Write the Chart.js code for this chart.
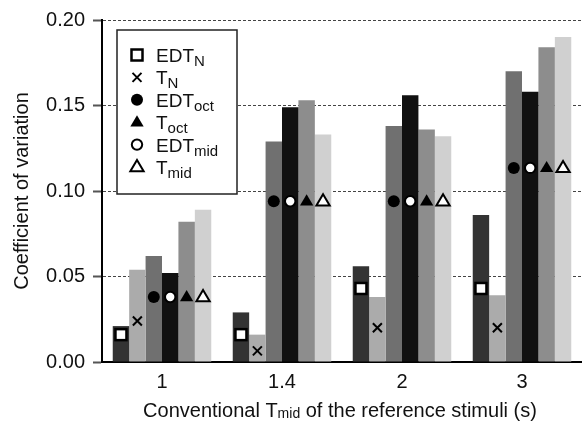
<!DOCTYPE html>
<html>
<head>
<meta charset="utf-8">
<script src="https://cdn.jsdelivr.net/npm/chart.js@4/dist/chart.umd.min.js"></script>
<style>
  html, body { margin: 0; padding: 0; background: #fff; }
  #wrap { width: 582px; height: 426px; }
</style>
</head>
<body>
<div id="wrap"><canvas id="cv" width="582" height="426"></canvas></div>
<script>
// conventional Tmid of the reference stimuli
const categories = ['1', '1.4', '2', '3'];

// bar heights, one array per bar in each group (left to right)
const barEdtN   = [0.021, 0.029, 0.056, 0.086];
const barTN     = [0.054, 0.016, 0.038, 0.039];
const barEdtOct = [0.062, 0.129, 0.138, 0.170];
const barEdtMid = [0.052, 0.149, 0.156, 0.158];
const barTOct   = [0.082, 0.153, 0.136, 0.184];
const barTMid   = [0.089, 0.133, 0.132, 0.190];

// marker values drawn on top of each bar
const markEdtN   = [0.016, 0.016, 0.043, 0.043];
const markTN     = [0.024, 0.0065, 0.020, 0.020];
const markEdtOct = [0.038, 0.094, 0.094, 0.1135];
const markEdtMid = [0.038, 0.094, 0.094, 0.1135];
const markTOct   = [0.038, 0.094, 0.094, 0.1135];
const markTMid   = [0.038, 0.094, 0.094, 0.1135];

const yTicks = [0, 0.05, 0.10, 0.15, 0.20];

const FONT = "'Liberation Sans', Arial, Helvetica, sans-serif";

const series = [
  { main: 'EDT', sub: 'N',   bars: barEdtN,   marks: markEdtN,   color: '#333333', style: 'squareOpen' },
  { main: 'T',   sub: 'N',   bars: barTN,     marks: markTN,     color: '#ababab', style: 'cross' },
  { main: 'EDT', sub: 'oct', bars: barEdtOct, marks: markEdtOct, color: '#707070', style: 'circle' },
  { main: 'EDT', sub: 'mid', bars: barEdtMid, marks: markEdtMid, color: '#111111', style: 'circleOpen' },
  { main: 'T',   sub: 'oct', bars: barTOct,   marks: markTOct,   color: '#8d8d8d', style: 'triangle' },
  { main: 'T',   sub: 'mid', bars: barTMid,   marks: markTMid,   color: '#d0d0d0', style: 'triangleOpen' }
];
// legend order differs from bar order
const legendOrder = [0, 1, 2, 4, 3, 5];

function drawMarker(ctx, style, x, y) {
  ctx.save();
  ctx.strokeStyle = '#000';
  ctx.fillStyle = '#000';
  ctx.lineWidth = 2;
  if (style === 'squareOpen') {
    ctx.fillStyle = '#fff';
    ctx.lineWidth = 2.5;
    ctx.fillRect(x - 5.5, y - 5.5, 11, 11);
    ctx.strokeRect(x - 5.5, y - 5.5, 11, 11);
  } else if (style === 'cross') {
    ctx.beginPath();
    ctx.moveTo(x - 4.5, y - 4.5); ctx.lineTo(x + 4.5, y + 4.5);
    ctx.moveTo(x + 4.5, y - 4.5); ctx.lineTo(x - 4.5, y + 4.5);
    ctx.stroke();
  } else if (style === 'circle' || style === 'circleOpen') {
    ctx.beginPath();
    ctx.arc(x, y, style === 'circle' ? 6 : 5.2, 0, Math.PI * 2);
    if (style === 'circle') ctx.fill();
    else { ctx.fillStyle = '#fff'; ctx.fill(); ctx.stroke(); }
  } else {
    const r = 7;
    ctx.beginPath();
    ctx.moveTo(x, y - r);
    ctx.lineTo(x + r * 0.95, y + r * 0.6);
    ctx.lineTo(x - r * 0.95, y + r * 0.6);
    ctx.closePath();
    if (style === 'triangle') ctx.fill();
    else { ctx.fillStyle = '#fff'; ctx.fill(); ctx.lineJoin = 'miter'; ctx.stroke(); }
  }
  ctx.restore();
}

const markerPlugin = {
  id: 'markers',
  afterDatasetsDraw(chart) {
    const ctx = chart.ctx;
    const yScale = chart.scales.y;
    series.forEach((s, i) => {
      const meta = chart.getDatasetMeta(i);
      meta.data.forEach((bar, j) => {
        drawMarker(ctx, s.style, bar.x, yScale.getPixelForValue(s.marks[j]));
      });
    });
  }
};

const legendPlugin = {
  id: 'subLegend',
  afterDraw(chart) {
    const ctx = chart.ctx;
    const a = chart.chartArea;
    const bx = a.left + 15, by = a.top + 10, bw = 120, bh = 164;
    ctx.save();
    ctx.fillStyle = '#fff';
    ctx.fillRect(bx, by, bw, bh);
    ctx.strokeStyle = '#222';
    ctx.lineWidth = 1.5;
    ctx.strokeRect(bx, by, bw, bh);
    legendOrder.forEach((idx, row) => {
      const s = series[idx];
      const cy = by + 25 + row * 22.4;
      drawMarker(ctx, s.style, bx + 20, cy);
      ctx.fillStyle = '#111';
      ctx.textBaseline = 'alphabetic';
      ctx.font = '19px ' + FONT;
      const tx = bx + 39;
      ctx.fillText(s.main, tx, cy + 7);
      const w = ctx.measureText(s.main).width;
      ctx.font = '15px ' + FONT;
      ctx.fillText(s.sub, tx + w, cy + 11);
    });
    ctx.restore();
  }
};

const xTitlePlugin = {
  id: 'xTitle',
  afterDraw(chart) {
    const ctx = chart.ctx;
    const parts = [
      { t: 'Conventional T', f: '20px ' + FONT, dy: 0 },
      { t: 'mid', f: '14px ' + FONT, dy: 1 },
      { t: ' of the reference stimuli (s)', f: '20px ' + FONT, dy: 0 }
    ];
    ctx.save();
    let total = 0;
    parts.forEach(p => { ctx.font = p.f; p.w = ctx.measureText(p.t).width; total += p.w; });
    let x = 340 - total / 2;
    const y = 417;
    ctx.fillStyle = '#111';
    ctx.textBaseline = 'alphabetic';
    parts.forEach(p => { ctx.font = p.f; ctx.fillText(p.t, x, y + p.dy); x += p.w; });
    ctx.restore();
  }
};

new Chart(document.getElementById('cv'), {
  type: 'bar',
  data: {
    labels: categories,
    datasets: series.map(s => ({
      label: s.main + s.sub,
      data: s.bars,
      backgroundColor: s.color,
      borderWidth: 0,
      barPercentage: 1.0,
      categoryPercentage: 0.821
    }))
  },
  options: {
    responsive: false,
    animation: false,
    layout: { padding: { top: 16, right: -7, left: 0, bottom: 0 } },
    plugins: { legend: { display: false }, tooltip: { enabled: false } },
    scales: {
      x: {
        grid: { display: false, drawTicks: false },
        border: { display: true, color: '#000', width: 2 },
        ticks: { color: '#111', font: { family: FONT, size: 20 }, padding: 8 },
        afterFit(scale) { scale.height = 64; }
      },
      y: {
        min: 0,
        max: 0.2,
        afterBuildTicks(scale) { scale.ticks = yTicks.map(v => ({ value: v })); },
        ticks: {
          color: '#111',
          font: { family: FONT, size: 20 },
          padding: 8,
          callback: v => Number(v).toFixed(2)
        },
        grid: {
          color: '#444',
          lineWidth: 1,
          tickLength: 9,
          tickColor: '#555',
          tickWidth: 2,
          tickBorderDash: [1, 0]
        },
        border: { display: true, color: '#000', width: 2, dash: [3, 2] },
        title: {
          display: true,
          text: 'Coefficient of variation',
          color: '#111',
          font: { family: FONT, size: 20 },
          padding: { top: 10, bottom: 0 }
        },
        afterFit(scale) { scale.width = 102; }
      }
    }
  },
  plugins: [markerPlugin, legendPlugin, xTitlePlugin]
});
</script>
</body>
</html>
